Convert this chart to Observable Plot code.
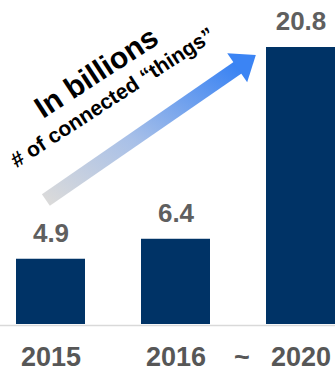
<!DOCTYPE html>
<html><head><meta charset="utf-8">
<script src="https://cdn.jsdelivr.net/npm/d3@7"></script>
<script src="https://cdn.jsdelivr.net/npm/@observablehq/plot@0.6"></script>
<style>html,body{margin:0;padding:0;background:#fff;} #chart svg{display:block}</style>
</head><body><div id="chart"></div>
<script>
// Data
const years = ["2015", "2016", "2020"];
const values = [4.9, 6.4, 20.8];
const separator = ["~"];
// Annotation (positions in data units)
const noteTitle = ["In billions"];
const noteTitleValue = [18.3];
const noteSub = ["# of connected \u201cthings\u201d"];
const noteSubValue = [16.6];
const arrowYears = ["2015", "2020"];
const arrowValues = [9.35, 22.3];
const arrowHeadValue = [19.28];

const FONT = "'Liberation Sans', Arial, Helvetica, sans-serif";
const bars = years.map((year, i) => ({year, value: values[i]}));
const arrow = [{x1: arrowYears[0], x2: arrowYears[1], y1: arrowValues[0], y2: arrowValues[1]}];

const headSymbol = {
  draw(ctx) {
    ctx.moveTo(0, -22.6);
    ctx.lineTo(17.6, 0);
    ctx.lineTo(-17.6, 0);
    ctx.closePath();
  }
};

const chart = Plot.plot({
  width: 335,
  height: 371,
  marginLeft: 15,
  marginRight: 0,
  marginTop: 47,
  marginBottom: 47,
  style: {fontFamily: FONT, background: "#fff", overflow: "visible"},
  x: {domain: years, paddingInner: 0.45, paddingOuter: 0, label: null},
  y: {domain: [0, 20.8], axis: null},
  marks: [
    Plot.ruleY([0], {stroke: "#d9d9d9", strokeWidth: 1.5, insetLeft: -15, dy: 1}),
    Plot.barY(bars, {x: "year", y: "value", fill: "#003366"}),
    Plot.text(bars, {x: "year", y: "value", text: d => d.value.toFixed(1), dy: -17.5, lineAnchor: "bottom",
      fontSize: 26, fontWeight: "bold", fill: "#5f5f5f"}),
    Plot.axisX({tickSize: 0, tickPadding: 22, fontSize: 27, fontWeight: "bold", color: "#575757", label: null}),
    Plot.text(separator, {x: () => "2016", frameAnchor: "bottom", text: d => d, dx: 66, dy: 41, lineAnchor: "bottom",
      fontSize: 27, fontWeight: "bold", fill: "#575757"}),
    Plot.arrow(arrow, {x1: "x1", y1: "y1", x2: "x2", y2: "y2", dx: -5.1, insetEnd: 70, headLength: 0,
      strokeWidth: 14, strokeLinecap: "butt", stroke: "url(#shaftGrad)"}),
    Plot.dot(arrowHeadValue, {x: () => "2020", y: d => d, dx: -63.8, symbol: headSymbol, rotate: 55.5, fill: "#3b84f4", stroke: "none"}),
    Plot.text(noteTitle, {x: () => "2015", y: (d, i) => noteTitleValue[i], text: d => d, dx: 50.8, rotate: -33,
      textAnchor: "middle", lineAnchor: "bottom", fontSize: 30, fontWeight: "bold", fill: "#000"}),
    Plot.text(noteSub, {x: () => "2015", y: (d, i) => noteSubValue[i], text: d => d, dx: 65.3, rotate: -33,
      textAnchor: "middle", lineAnchor: "bottom", fontSize: 21, fontWeight: "bold", fill: "#000"})
  ]
});

const defs = d3.create("svg:defs");
const grad = defs.append("linearGradient").attr("id", "shaftGrad")
  .attr("x1", 0).attr("y1", 1).attr("x2", 1).attr("y2", 0);
grad.append("stop").attr("offset", "0%").attr("stop-color", "#dadada");
grad.append("stop").attr("offset", "45%").attr("stop-color", "#a8c0e8");
grad.append("stop").attr("offset", "100%").attr("stop-color", "#3a83f3");
chart.insertBefore(defs.node(), chart.firstChild);

document.getElementById("chart").append(chart);
</script>
</body></html>
